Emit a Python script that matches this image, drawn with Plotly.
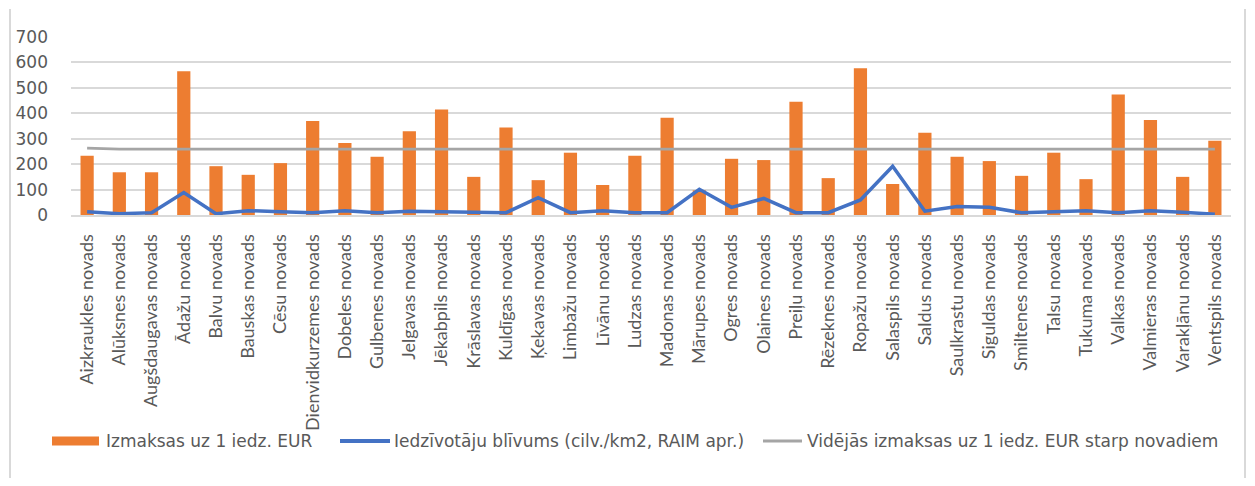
import plotly.graph_objects as go

categories = [
    "Aizkraukles novads", "Alūksnes novads", "Augšdaugavas novads", "Ādažu novads",
    "Balvu novads", "Bauskas novads", "Cēsu novads", "Dienvidkurzemes novads",
    "Dobeles novads", "Gulbenes novads", "Jelgavas novads", "Jēkabpils novads",
    "Krāslavas novads", "Kuldīgas novads", "Ķekavas novads", "Limbažu novads",
    "Līvānu novads", "Ludzas novads", "Madonas novads", "Mārupes novads",
    "Ogres novads", "Olaines novads", "Preiļu novads", "Rēzeknes novads",
    "Ropažu novads", "Salaspils novads", "Saldus novads", "Saulkrastu novads",
    "Siguldas novads", "Smiltenes novads", "Talsu novads", "Tukuma novads",
    "Valkas novads", "Valmieras novads", "Varakļānu novads", "Ventspils novads",
]

costs = [233, 168, 168, 565, 192, 158, 204, 370, 283, 229, 329, 415,
         150, 344, 137, 245, 118, 233, 382, 97, 221, 216, 445, 145,
         577, 122, 323, 229, 212, 154, 245, 141, 474, 374, 150, 292]

density = [13, 5, 9, 88, 5, 17, 13, 9, 17, 9, 15, 13,
           9, 9, 68, 9, 17, 9, 9, 101, 30, 65, 9, 9,
           59, 192, 15, 33, 30, 9, 13, 17, 9, 17, 11, 3]

avg_cost = [263] + [259] * 35

series_names = [
    "Izmaksas uz 1 iedz. EUR",
    "Iedzīvotāju blīvums (cilv./km2, RAIM apr.)",
    "Vidējās izmaksas uz 1 iedz. EUR starp novadiem",
]

y_ticks = [0, 100, 200, 300, 400, 500, 600, 700]

ORANGE = "#ED7D31"
BLUE = "#4472C4"
GRAY = "#A5A5A5"
TEXT = "#595959"
GRID = "#D9D9D9"
LATO = "Lato, Calibri, sans-serif"
WIDE = "'DejaVu Sans', Verdana, sans-serif"

# the page body has an 8px margin on every side; keep the figure inside it
OFF = 8
W, H = 1255 - 2 * OFF, 486 - 2 * OFF
PLOT_L, PLOT_R, PLOT_T, PLOT_B = 71, 1231, 37, 215   # page pixels
ML, MT = PLOT_L - OFF, PLOT_T - OFF
MR, MB = W - (PLOT_R - OFF), H - (PLOT_B - OFF)
PW, PH = W - ML - MR, H - MT - MB


def px(x):
    # page pixel x -> paper coordinate
    return (x - OFF - ML) / PW


def py(y):
    # page pixel y -> paper coordinate
    return (H - MB - (y - OFF)) / PH


fig = go.Figure()

fig.add_trace(go.Bar(
    x=categories, y=costs, name=series_names[0],
    marker=dict(color=ORANGE, line=dict(width=0)),
))
fig.add_trace(go.Scatter(
    x=categories, y=density, mode="lines", name=series_names[1],
    line=dict(color=BLUE, width=3.5),
))
fig.add_trace(go.Scatter(
    x=categories, y=avg_cost, mode="lines", name=series_names[2],
    line=dict(color=GRAY, width=2.8),
))

leg_y = 441
shapes = [
    # outer chart border (left / right)
    dict(type="line", xref="paper", yref="paper",
         x0=px(10), x1=px(10), y0=py(OFF + 1), y1=py(486 - OFF),
         line=dict(color=GRID, width=2)),
    dict(type="line", xref="paper", yref="paper",
         x0=px(1245), x1=px(1245), y0=py(OFF + 1), y1=py(486 - OFF),
         line=dict(color=GRID, width=2)),
    # legend symbols
    dict(type="rect", xref="paper", yref="paper",
         x0=px(52), x1=px(99), y0=py(leg_y - 4.5), y1=py(leg_y + 4.5),
         fillcolor=ORANGE, line=dict(width=0)),
    dict(type="line", xref="paper", yref="paper",
         x0=px(340), x1=px(390), y0=py(leg_y), y1=py(leg_y),
         line=dict(color=BLUE, width=4)),
    dict(type="line", xref="paper", yref="paper",
         x0=px(763), x1=px(802), y0=py(leg_y), y1=py(leg_y),
         line=dict(color=GRAY, width=3)),
]

annotations = []
for name, xpos in zip(series_names, [104, 392, 805]):
    annotations.append(dict(
        text=name, xref="paper", yref="paper", x=px(xpos), y=py(leg_y),
        xanchor="left", yanchor="middle", showarrow=False,
        font=dict(family=WIDE, size=17, color=TEXT),
    ))

fig.update_layout(
    width=W, height=H,
    margin=dict(l=ML, r=MR, t=MT, b=MB),
    paper_bgcolor="white", plot_bgcolor="white",
    font=dict(family=LATO, color=TEXT, size=16),
    bargap=0.59,
    showlegend=False,
    shapes=shapes,
    annotations=annotations,
)

fig.update_xaxes(
    type="category", tickangle=-90, showgrid=False,
    showline=True, linecolor=GRID, linewidth=2,
    ticks="", tickfont=dict(size=18, color=TEXT, family=LATO),
    ticklabelstandoff=10, automargin=False,
)
fig.update_yaxes(
    range=[0, 700], tickvals=y_ticks, showgrid=True,
    gridcolor=GRID, gridwidth=2, zeroline=False,
    showline=False, ticks="", ticklabelstandoff=22,
    tickfont=dict(size=17, color=TEXT, family=WIDE),
    automargin=False,
)

fig.write_html("out.html")
